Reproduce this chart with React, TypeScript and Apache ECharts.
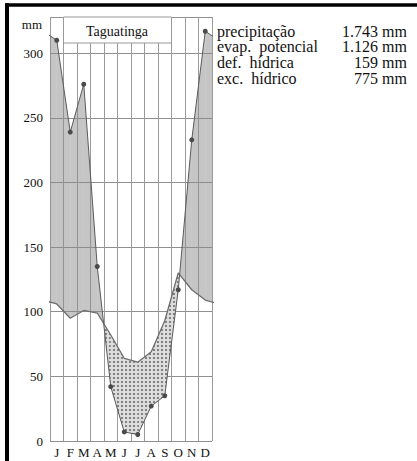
import React, { useEffect, useRef } from "react";
import * as echarts from "echarts";

const months = ["J", "F", "M", "A", "M", "J", "J", "A", "S", "O", "N", "D"];
const precipitation = [310, 239, 276, 135, 42, 7, 5, 27, 35, 117, 233, 317];
const evapPotencial = [106, 95, 101, 99, 82, 64, 61, 69, 93, 130, 117, 109];
const yMax = 328;
const yStep = 50;
const station = "Taguatinga";
const unitLabel = "mm";
const summaryLabels = ["precipitação", "evap.  potencial", "def.  hídrica", "exc.  hídrico"];
const summaryValues = ["1.743 mm", "1.126 mm", "159 mm", "775 mm"];

const FONT = "'Liberation Serif', 'DejaVu Serif', serif";

export default function App() {
  const ref = useRef<HTMLDivElement>(null);

  useEffect(() => {
    const el = ref.current!;
    const chart = echarts.init(el, null, { renderer: "svg" });
    const n = months.length;
    const xs = [-0.5, ...months.map((_, i) => i + 0.5), n + 0.5];
    const pExt = [precipitation[n - 1], ...precipitation, precipitation[0]];
    const eExt = [evapPotencial[n - 1], ...evapPotencial, evapPotencial[0]];

    const tile = document.createElement("canvas");
    tile.width = 4;
    tile.height = 4;
    const ctx = tile.getContext("2d")!;
    ctx.fillStyle = "#dcdcdc";
    ctx.fillRect(0, 0, 4, 4);
    ctx.fillStyle = "#6a6a6a";
    ctx.beginPath();
    ctx.arc(2, 2, 1.05, 0, Math.PI * 2);
    ctx.fill();
    const dotted: any = { image: tile, repeat: "repeat" };
    const GRAY = "rgba(140,140,140,0.5)";

    const segData = xs.slice(0, -1).map((x, i) => [x, pExt[i], xs[i + 1], eExt[i + 1]]);

    const renderItem = (params: any, api: any) => {
      const i = params.dataIndex;
      const x0 = xs[i], x1 = xs[i + 1];
      const p0 = pExt[i], p1 = pExt[i + 1], e0 = eExt[i], e1 = eExt[i + 1];
      const d0 = p0 - e0, d1 = p1 - e1;
      const poly = (pts: number[][], pos: boolean) => ({
        type: "polygon",
        shape: { points: pts.map((pt) => api.coord(pt)) },
        style: pos ? { fill: GRAY, stroke: null } : { fill: dotted, stroke: null },
      });
      const children: any[] = [];
      if (d0 * d1 >= 0) {
        children.push(poly([[x0, e0], [x1, e1], [x1, p1], [x0, p0]], d0 + d1 >= 0));
      } else {
        const t = d0 / (d0 - d1);
        const xc = x0 + t * (x1 - x0);
        const yc = p0 + t * (p1 - p0);
        children.push(poly([[x0, p0], [xc, yc], [x0, e0]], d0 > 0));
        children.push(poly([[xc, yc], [x1, p1], [x1, e1]], d1 > 0));
      }
      return { type: "group", children };
    };

    const option: any = {
      animation: false,
      grid: { left: 50, right: 205, top: 17, bottom: 20 },
      xAxis: [
        {
          type: "value",
          min: 0,
          max: n,
          interval: 1,
          axisLine: { show: false },
          axisTick: { show: false },
          axisLabel: { show: false },
          splitLine: { show: true, lineStyle: { color: "#9a9a9a", width: 1 } },
        },
        {
          type: "category",
          data: months,
          boundaryGap: true,
          position: "bottom",
          axisLine: { show: false },
          axisTick: { show: false },
          splitLine: { show: false },
          axisLabel: {
            interval: 0,
            margin: 5,
            fontFamily: FONT,
            fontSize: 13,
            color: "#111",
          },
        },
      ],
      yAxis: {
        type: "value",
        min: 0,
        max: yMax,
        interval: yStep,
        axisLine: { show: false },
        axisTick: { show: false },
        axisLabel: {
          margin: 7,
          fontFamily: FONT,
          fontSize: 13,
          color: "#111",
          formatter: (v: number) => (v % yStep === 0 ? String(v) : ""),
        },
        splitLine: { show: true, lineStyle: { color: "#8f8f8f", width: 1 } },
      },
      series: [
        {
          type: "custom",
          xAxisIndex: 0,
          clip: true,
          z: 1,
          renderItem,
          encode: { x: [0, 2], y: [1, 3] },
          data: segData,
        },
        {
          type: "line",
          xAxisIndex: 0,
          z: 3,
          clip: true,
          data: xs.map((x, i) => ({
            value: [x, pExt[i]],
            symbolSize: i === 0 || i === xs.length - 1 ? 0 : 5,
          })),
          symbol: "circle",
          itemStyle: { color: "#4a4a4a" },
          lineStyle: { color: "#5a5a5a", width: 1 },
        },
        {
          type: "line",
          xAxisIndex: 0,
          z: 2,
          clip: true,
          showSymbol: false,
          data: xs.map((x, i) => [x, eExt[i]]),
          lineStyle: { color: "#6e6e6e", width: 1.3 },
        },
      ],
      graphic: [
        {
          type: "rect",
          z: 100,
          shape: { x: 63.5, y: 17, width: 108, height: 26 },
          style: { fill: "#fff", stroke: "#999", lineWidth: 1 },
        },
        {
          type: "text",
          z: 101,
          x: 117,
          y: 31,
          style: {
            text: station,
            font: `14px ${FONT}`,
            fill: "#111",
            textAlign: "center",
            textVerticalAlign: "middle",
          },
        },
        {
          type: "text",
          z: 101,
          x: 42,
          y: 24,
          style: {
            text: unitLabel,
            font: `13px ${FONT}`,
            fill: "#111",
            textAlign: "right",
            textVerticalAlign: "middle",
          },
        },
        ...summaryLabels.map((t, i) => ({
          type: "text",
          z: 101,
          x: 217,
          y: 31 + i * 15.7,
          style: {
            text: t,
            font: `16px ${FONT}`,
            fill: "#111",
            textAlign: "left",
            textVerticalAlign: "middle",
          },
        })),
        ...summaryValues.map((t, i) => ({
          type: "text",
          z: 101,
          x: 407,
          y: 31 + i * 15.7,
          style: {
            text: t,
            font: `16px ${FONT}`,
            fill: "#111",
            textAlign: "right",
            textVerticalAlign: "middle",
          },
        })),
        {
          type: "line",
          z: 110,
          shape: { x1: 5, y1: 5, x2: 417, y2: 5 },
          style: { stroke: "#000", lineWidth: 3.5 },
        },
        {
          type: "line",
          z: 110,
          shape: { x1: 7, y1: 3.3, x2: 7, y2: 461 },
          style: { stroke: "#000", lineWidth: 4 },
        },
      ],
    };

    chart.setOption(option);
    return () => chart.dispose();
  }, []);

  return (
    <div
      ref={ref}
      style={{ position: "fixed", left: 0, top: 0, width: 417, height: 461, background: "#fff" }}
    />
  );
}
